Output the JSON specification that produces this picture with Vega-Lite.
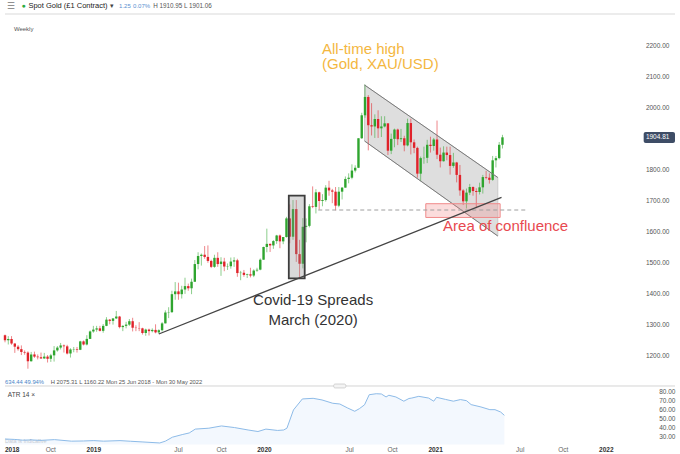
{
"$schema": "https://vega.github.io/schema/vega-lite/v6.json",
"width": 680, "height": 454,
"autosize": {"type": "fit", "contains": "padding"},
"padding": 0,
"background": "#ffffff",
"config": {"view": {"stroke": null}, "font": "Liberation Sans"},
"datasets": {
"candles": [
{"d":"2018-06-25","o":1268,"h":1270,"l":1245,"c":1252},
{"d":"2018-07-02","o":1252,"h":1265,"l":1238,"c":1256},
{"d":"2018-07-09","o":1256,"h":1265,"l":1237,"c":1241},
{"d":"2018-07-16","o":1241,"h":1243,"l":1211,"c":1231},
{"d":"2018-07-23","o":1231,"h":1236,"l":1218,"c":1223},
{"d":"2018-07-30","o":1223,"h":1235,"l":1204,"c":1214},
{"d":"2018-08-06","o":1214,"h":1219,"l":1205,"c":1212},
{"d":"2018-08-13","o":1212,"h":1216,"l":1160,"c":1184},
{"d":"2018-08-20","o":1184,"h":1214,"l":1183,"c":1206},
{"d":"2018-08-27","o":1206,"h":1215,"l":1195,"c":1199},
{"d":"2018-09-03","o":1199,"h":1206,"l":1190,"c":1197},
{"d":"2018-09-10","o":1197,"h":1212,"l":1192,"c":1193},
{"d":"2018-09-17","o":1193,"h":1211,"l":1192,"c":1199},
{"d":"2018-09-24","o":1199,"h":1204,"l":1180,"c":1192},
{"d":"2018-10-01","o":1192,"h":1208,"l":1182,"c":1203},
{"d":"2018-10-08","o":1203,"h":1233,"l":1183,"c":1219},
{"d":"2018-10-15","o":1219,"h":1233,"l":1215,"c":1228},
{"d":"2018-10-22","o":1228,"h":1243,"l":1222,"c":1235},
{"d":"2018-10-29","o":1235,"h":1238,"l":1212,"c":1232},
{"d":"2018-11-05","o":1232,"h":1237,"l":1206,"c":1209},
{"d":"2018-11-12","o":1209,"h":1226,"l":1196,"c":1222},
{"d":"2018-11-19","o":1222,"h":1230,"l":1213,"c":1223},
{"d":"2018-11-26","o":1223,"h":1230,"l":1212,"c":1221},
{"d":"2018-12-03","o":1221,"h":1250,"l":1220,"c":1248},
{"d":"2018-12-10","o":1248,"h":1251,"l":1235,"c":1238},
{"d":"2018-12-17","o":1238,"h":1268,"l":1235,"c":1256},
{"d":"2018-12-24","o":1256,"h":1283,"l":1256,"c":1280},
{"d":"2018-12-31","o":1280,"h":1298,"l":1276,"c":1286},
{"d":"2019-01-07","o":1286,"h":1298,"l":1279,"c":1290},
{"d":"2019-01-14","o":1290,"h":1298,"l":1280,"c":1282},
{"d":"2019-01-21","o":1282,"h":1304,"l":1276,"c":1298},
{"d":"2019-01-28","o":1298,"h":1326,"l":1297,"c":1318},
{"d":"2019-02-04","o":1318,"h":1320,"l":1303,"c":1314},
{"d":"2019-02-11","o":1314,"h":1322,"l":1302,"c":1322},
{"d":"2019-02-18","o":1322,"h":1346,"l":1320,"c":1328},
{"d":"2019-02-25","o":1328,"h":1330,"l":1290,"c":1294},
{"d":"2019-03-04","o":1294,"h":1300,"l":1281,"c":1298},
{"d":"2019-03-11","o":1298,"h":1311,"l":1290,"c":1302},
{"d":"2019-03-18","o":1302,"h":1320,"l":1298,"c":1313},
{"d":"2019-03-25","o":1313,"h":1324,"l":1280,"c":1292},
{"d":"2019-04-01","o":1292,"h":1300,"l":1281,"c":1291},
{"d":"2019-04-08","o":1291,"h":1310,"l":1281,"c":1290},
{"d":"2019-04-15","o":1290,"h":1292,"l":1270,"c":1275},
{"d":"2019-04-22","o":1275,"h":1289,"l":1266,"c":1286},
{"d":"2019-04-29","o":1286,"h":1289,"l":1267,"c":1281},
{"d":"2019-05-06","o":1281,"h":1290,"l":1277,"c":1285},
{"d":"2019-05-13","o":1285,"h":1303,"l":1274,"c":1277},
{"d":"2019-05-20","o":1277,"h":1287,"l":1273,"c":1284},
{"d":"2019-05-27","o":1284,"h":1310,"l":1280,"c":1306},
{"d":"2019-06-03","o":1306,"h":1348,"l":1306,"c":1341},
{"d":"2019-06-10","o":1341,"h":1358,"l":1323,"c":1342},
{"d":"2019-06-17","o":1342,"h":1411,"l":1340,"c":1400},
{"d":"2019-06-24","o":1400,"h":1439,"l":1382,"c":1409},
{"d":"2019-07-01","o":1409,"h":1437,"l":1382,"c":1400},
{"d":"2019-07-08","o":1400,"h":1427,"l":1386,"c":1415},
{"d":"2019-07-15","o":1415,"h":1453,"l":1401,"c":1426},
{"d":"2019-07-22","o":1426,"h":1434,"l":1411,"c":1419},
{"d":"2019-07-29","o":1419,"h":1450,"l":1400,"c":1440},
{"d":"2019-08-05","o":1440,"h":1510,"l":1440,"c":1497},
{"d":"2019-08-12","o":1497,"h":1535,"l":1480,"c":1523},
{"d":"2019-08-19","o":1523,"h":1531,"l":1492,"c":1527},
{"d":"2019-08-26","o":1527,"h":1555,"l":1514,"c":1520},
{"d":"2019-09-02","o":1520,"h":1557,"l":1501,"c":1507},
{"d":"2019-09-09","o":1507,"h":1511,"l":1484,"c":1488},
{"d":"2019-09-16","o":1488,"h":1527,"l":1485,"c":1517},
{"d":"2019-09-23","o":1517,"h":1535,"l":1488,"c":1497},
{"d":"2019-09-30","o":1497,"h":1519,"l":1459,"c":1505},
{"d":"2019-10-07","o":1505,"h":1517,"l":1474,"c":1489},
{"d":"2019-10-14","o":1489,"h":1499,"l":1478,"c":1490},
{"d":"2019-10-21","o":1490,"h":1518,"l":1482,"c":1505},
{"d":"2019-10-28","o":1505,"h":1519,"l":1488,"c":1509},
{"d":"2019-11-04","o":1509,"h":1514,"l":1456,"c":1468},
{"d":"2019-11-11","o":1468,"h":1475,"l":1445,"c":1469},
{"d":"2019-11-18","o":1469,"h":1478,"l":1456,"c":1462},
{"d":"2019-11-25","o":1462,"h":1466,"l":1452,"c":1464},
{"d":"2019-12-02","o":1464,"h":1485,"l":1454,"c":1460},
{"d":"2019-12-09","o":1460,"h":1480,"l":1455,"c":1476},
{"d":"2019-12-16","o":1476,"h":1485,"l":1472,"c":1479},
{"d":"2019-12-23","o":1479,"h":1515,"l":1477,"c":1511},
{"d":"2019-12-30","o":1511,"h":1553,"l":1511,"c":1552},
{"d":"2020-01-06","o":1552,"h":1611,"l":1535,"c":1562},
{"d":"2020-01-13","o":1562,"h":1563,"l":1536,"c":1557},
{"d":"2020-01-20","o":1557,"h":1574,"l":1546,"c":1571},
{"d":"2020-01-27","o":1571,"h":1591,"l":1562,"c":1589},
{"d":"2020-02-03","o":1589,"h":1592,"l":1548,"c":1570},
{"d":"2020-02-10","o":1570,"h":1584,"l":1561,"c":1584},
{"d":"2020-02-17","o":1584,"h":1649,"l":1582,"c":1644},
{"d":"2020-02-24","o":1644,"h":1689,"l":1564,"c":1585},
{"d":"2020-03-02","o":1585,"h":1703,"l":1575,"c":1674},
{"d":"2020-03-09","o":1674,"h":1703,"l":1504,"c":1529},
{"d":"2020-03-16","o":1529,"h":1575,"l":1451,"c":1498},
{"d":"2020-03-23","o":1498,"h":1645,"l":1483,"c":1617},
{"d":"2020-03-30","o":1617,"h":1644,"l":1567,"c":1620},
{"d":"2020-04-06","o":1620,"h":1690,"l":1615,"c":1683},
{"d":"2020-04-13","o":1683,"h":1747,"l":1677,"c":1681},
{"d":"2020-04-20","o":1681,"h":1738,"l":1660,"c":1728},
{"d":"2020-04-27","o":1728,"h":1730,"l":1672,"c":1700},
{"d":"2020-05-04","o":1700,"h":1722,"l":1683,"c":1703},
{"d":"2020-05-11","o":1703,"h":1751,"l":1698,"c":1743},
{"d":"2020-05-18","o":1743,"h":1765,"l":1717,"c":1734},
{"d":"2020-05-25","o":1734,"h":1739,"l":1693,"c":1730},
{"d":"2020-06-01","o":1730,"h":1745,"l":1670,"c":1685},
{"d":"2020-06-08","o":1685,"h":1745,"l":1680,"c":1730},
{"d":"2020-06-15","o":1730,"h":1745,"l":1705,"c":1743},
{"d":"2020-06-22","o":1743,"h":1779,"l":1743,"c":1771},
{"d":"2020-06-29","o":1771,"h":1789,"l":1757,"c":1775},
{"d":"2020-07-06","o":1775,"h":1818,"l":1770,"c":1798},
{"d":"2020-07-13","o":1798,"h":1815,"l":1792,"c":1807},
{"d":"2020-07-20","o":1807,"h":1902,"l":1806,"c":1902},
{"d":"2020-07-27","o":1902,"h":1984,"l":1900,"c":1976},
{"d":"2020-08-03","o":1976,"h":2075,"l":1968,"c":2035},
{"d":"2020-08-10","o":2035,"h":2041,"l":1863,"c":1944},
{"d":"2020-08-17","o":1944,"h":2015,"l":1911,"c":1940},
{"d":"2020-08-24","o":1940,"h":1979,"l":1903,"c":1964},
{"d":"2020-08-31","o":1964,"h":1992,"l":1903,"c":1934},
{"d":"2020-09-07","o":1934,"h":1973,"l":1906,"c":1940},
{"d":"2020-09-14","o":1940,"h":1973,"l":1937,"c":1950},
{"d":"2020-09-21","o":1950,"h":1950,"l":1848,"c":1862},
{"d":"2020-09-28","o":1862,"h":1917,"l":1851,"c":1900},
{"d":"2020-10-05","o":1900,"h":1933,"l":1873,"c":1930},
{"d":"2020-10-12","o":1930,"h":1933,"l":1880,"c":1899},
{"d":"2020-10-19","o":1899,"h":1932,"l":1890,"c":1902},
{"d":"2020-10-26","o":1902,"h":1910,"l":1860,"c":1879},
{"d":"2020-11-02","o":1879,"h":1965,"l":1876,"c":1951},
{"d":"2020-11-09","o":1951,"h":1965,"l":1850,"c":1889},
{"d":"2020-11-16","o":1889,"h":1898,"l":1854,"c":1871},
{"d":"2020-11-23","o":1871,"h":1875,"l":1775,"c":1788},
{"d":"2020-11-30","o":1788,"h":1843,"l":1764,"c":1838},
{"d":"2020-12-07","o":1838,"h":1875,"l":1820,"c":1839},
{"d":"2020-12-14","o":1839,"h":1897,"l":1822,"c":1881},
{"d":"2020-12-21","o":1881,"h":1907,"l":1856,"c":1877},
{"d":"2020-12-28","o":1877,"h":1903,"l":1862,"c":1898},
{"d":"2021-01-04","o":1898,"h":1959,"l":1835,"c":1849},
{"d":"2021-01-11","o":1849,"h":1872,"l":1808,"c":1828},
{"d":"2021-01-18","o":1828,"h":1876,"l":1827,"c":1856},
{"d":"2021-01-25","o":1856,"h":1875,"l":1831,"c":1848},
{"d":"2021-02-01","o":1848,"h":1875,"l":1785,"c":1813},
{"d":"2021-02-08","o":1813,"h":1855,"l":1807,"c":1824},
{"d":"2021-02-15","o":1824,"h":1826,"l":1760,"c":1784},
{"d":"2021-02-22","o":1784,"h":1816,"l":1717,"c":1734},
{"d":"2021-03-01","o":1734,"h":1738,"l":1687,"c":1699},
{"d":"2021-03-08","o":1699,"h":1740,"l":1676,"c":1727},
{"d":"2021-03-15","o":1727,"h":1755,"l":1719,"c":1745},
{"d":"2021-03-22","o":1745,"h":1747,"l":1717,"c":1732},
{"d":"2021-03-29","o":1732,"h":1741,"l":1677,"c":1729},
{"d":"2021-04-05","o":1729,"h":1759,"l":1721,"c":1744},
{"d":"2021-04-12","o":1744,"h":1784,"l":1724,"c":1777},
{"d":"2021-04-19","o":1777,"h":1797,"l":1770,"c":1775},
{"d":"2021-04-26","o":1775,"h":1789,"l":1756,"c":1768},
{"d":"2021-05-03","o":1768,"h":1845,"l":1765,"c":1831},
{"d":"2021-05-10","o":1831,"h":1845,"l":1808,"c":1838},
{"d":"2021-05-17","o":1838,"h":1890,"l":1834,"c":1881},
{"d":"2021-05-24","o":1881,"h":1913,"l":1869,"c":1905}
],
"atr": [
{"d":"2018-06-25","v":27},{"d":"2018-07-16","v":26.5},{"d":"2018-08-02","v":25.7},{"d":"2018-08-20","v":26},
{"d":"2018-09-10","v":25.5},{"d":"2018-10-09","v":26.3},{"d":"2018-11-14","v":24.6},{"d":"2018-12-10","v":24.8},
{"d":"2019-01-01","v":25.2},{"d":"2019-01-22","v":24.6},{"d":"2019-02-26","v":25.2},{"d":"2019-03-20","v":24.5},
{"d":"2019-04-16","v":23.7},{"d":"2019-05-22","v":22.6},{"d":"2019-06-03","v":24.6},{"d":"2019-06-18","v":29},
{"d":"2019-07-09","v":31.9},{"d":"2019-07-24","v":33.7},{"d":"2019-08-06","v":38},{"d":"2019-09-04","v":39},
{"d":"2019-10-01","v":41.5},{"d":"2019-10-29","v":39.7},{"d":"2019-11-27","v":37},{"d":"2019-12-18","v":35.3},
{"d":"2020-01-04","v":38},{"d":"2020-01-29","v":36.5},{"d":"2020-02-11","v":37},{"d":"2020-02-18","v":39},
{"d":"2020-03-03","v":59.3},{"d":"2020-03-22","v":71.5},{"d":"2020-04-14","v":72.2},{"d":"2020-05-03","v":70.4},
{"d":"2020-05-26","v":66.7},{"d":"2020-06-10","v":65.9},{"d":"2020-06-27","v":61.4},{"d":"2020-07-12","v":57.8},
{"d":"2020-07-22","v":60.7},{"d":"2020-08-02","v":65},{"d":"2020-08-12","v":76.2},{"d":"2020-08-27","v":77.3},
{"d":"2020-09-07","v":77},{"d":"2020-09-17","v":73.7},{"d":"2020-09-23","v":75.6},{"d":"2020-10-08","v":73.7},
{"d":"2020-10-25","v":69},{"d":"2020-11-05","v":72},{"d":"2020-11-11","v":72.5},{"d":"2020-11-26","v":74.4},
{"d":"2020-12-17","v":72.5},{"d":"2020-12-28","v":69},{"d":"2021-01-03","v":73.3},{"d":"2021-01-22","v":71},
{"d":"2021-02-08","v":69},{"d":"2021-02-23","v":70.8},{"d":"2021-03-08","v":69.6},{"d":"2021-03-18","v":65.2},
{"d":"2021-04-08","v":62.6},{"d":"2021-04-27","v":59.6},{"d":"2021-05-08","v":59.6},{"d":"2021-05-20","v":57},
{"d":"2021-05-28","v":53.3}
],
"priceTicks": [{"p":1200},{"p":1300},{"p":1400},{"p":1500},{"p":1600},{"p":1700},{"p":1800},{"p":2000},{"p":2100},{"p":2200}],
"yearTicks": [{"d":"2019-01-01","t":"2019"},{"d":"2020-01-01","t":"2020"},{"d":"2021-01-01","t":"2021"},{"d":"2022-01-01","t":"2022"}],
"monthTicks": [{"d":"2018-10-01","t":"Oct"},{"d":"2019-07-01","t":"Jul"},{"d":"2019-10-01","t":"Oct"},{"d":"2020-07-01","t":"Jul"},{"d":"2020-10-01","t":"Oct"},{"d":"2021-07-01","t":"Jul"},{"d":"2021-10-01","t":"Oct"}]
},
"layer": [
{"layer": [
 {"data": {"values": [{}]},
  "mark": {"type":"rule","color":"#e6e6e6","strokeWidth":1.5},
  "encoding": {
   "x": {"datum":{"year":2018,"month":6,"date":25},"type":"temporal","axis":null,"scale":{"domain":[{"year":2018,"month":6,"date":25},{"year":2022,"month":5,"date":28}],"nice":false}},
   "x2": {"datum":{"year":2022,"month":5,"date":28}},
   "y": {"datum":2302.2,"type":"quantitative","axis":null,"scale":{"domain":[885.45,2347.14],"nice":false,"zero":false}}}},
 {"data": {"values": [{"d":"2020-08-02","top":2073.5,"bot":1893.2},{"d":"2021-05-14","top":1775.7,"bot":1587.3}]},
  "mark": {"type":"area","color":"#dedede","stroke":"#c2c2c2","strokeWidth":0.8},
  "encoding": {
   "x": {"field":"d","type":"temporal","axis":null},
   "y": {"field":"top","type":"quantitative","axis":null},
   "y2": {"field":"bot"}}},
 {"data": {"name":"candles"},
  "mark": {"type":"rule","strokeWidth":1,"opacity":0.55},
  "encoding": {
   "x": {"field":"d","type":"temporal","axis":null},
   "y": {"field":"l","type":"quantitative","axis":null},
   "y2": {"field":"h"},
   "color": {"condition":{"test":"datum.c >= datum.o","value":"#2fa52f"},"value":"#e0222a"}}},
 {"data": {"name":"candles"},
  "mark": {"type":"bar","size":2.4},
  "encoding": {
   "x": {"field":"d","type":"temporal","axis":null},
   "y": {"field":"o","type":"quantitative","axis":null},
   "y2": {"field":"c"},
   "color": {"condition":{"test":"datum.c >= datum.o","value":"#2fa52f"},"value":"#e0222a"}}},
 {"data": {"values": [{"d1":"2020-08-02","p1":2073.5,"d2":"2021-05-14","p2":1775.7},{"d1":"2020-08-02","p1":1893.2,"d2":"2021-05-14","p2":1587.3}]},
  "mark": {"type":"rule","color":"#7a7a7a","strokeWidth":1},
  "encoding": {"x":{"field":"d1","type":"temporal","axis":null},"x2":{"field":"d2"},"y":{"field":"p1","type":"quantitative","axis":null},"y2":{"field":"p2"}}},
 {"data": {"values": [{}]},
  "mark": {"type":"rect","fill":"#8c8c8c","fillOpacity":0.33,"stroke":"#3d3d3d","strokeWidth":1.8},
  "encoding": {"x":{"datum":{"year":2020,"month":2,"date":22},"type":"temporal","axis":null},"x2":{"datum":{"year":2020,"month":3,"date":27}},"y":{"datum":1717,"type":"quantitative","axis":null},"y2":{"datum":1451}}},
 {"data": {"values": [{}]},
  "mark": {"type":"rect","fill":"#f28b8b","fillOpacity":0.3,"stroke":"#f08a8a","strokeWidth":1},
  "encoding": {"x":{"datum":{"year":2020,"month":12,"date":11},"type":"temporal","axis":null},"x2":{"datum":{"year":2021,"month":5,"date":19}},"y":{"datum":1691.3,"type":"quantitative","axis":null},"y2":{"datum":1647}}},
 {"data": {"values": [{}]},
  "mark": {"type":"rule","color":"#9e9e9e","strokeWidth":1,"strokeDash":[4,3]},
  "encoding": {"x":{"datum":{"year":2020,"month":4,"date":25},"type":"temporal","axis":null},"x2":{"datum":{"year":2021,"month":7,"date":16}},"y":{"datum":1671,"type":"quantitative","axis":null}}},
 {"data": {"values": [{}]},
  "mark": {"type":"rule","color":"#444444","strokeWidth":1.3},
  "encoding": {"x":{"datum":{"year":2019,"month":5,"date":20},"type":"temporal","axis":null},"x2":{"datum":{"year":2021,"month":5,"date":22}},"y":{"datum":1271.8,"type":"quantitative","axis":null},"y2":{"datum":1711.9}}},
 {"data": {"name":"priceTicks"},
  "mark": {"type":"text","align":"right","baseline":"middle","fontSize":6.5,"color":"#555555"},
  "encoding": {"x":{"datum":{"year":2022,"month":5,"date":16},"type":"temporal","axis":null},"y":{"field":"p","type":"quantitative","axis":null},"text":{"field":"p","type":"quantitative","format":".2f"}}},
 {"data": {"values": [{}]},
  "mark": {"type":"rect","fill":"#3e4d66","cornerRadius":2},
  "encoding": {"x":{"datum":{"year":2022,"month":3,"date":22},"type":"temporal","axis":null},"x2":{"datum":{"year":2022,"month":5,"date":28}},"y":{"datum":1887.1,"type":"quantitative","axis":null},"y2":{"datum":1922.5}}},
 {"data": {"values": [{}]},
  "mark": {"type":"text","align":"right","baseline":"middle","fontSize":6.5,"color":"#ffffff"},
  "encoding": {"x":{"datum":{"year":2022,"month":5,"date":16},"type":"temporal","axis":null},"y":{"datum":1904.81,"type":"quantitative","axis":null},"text":{"value":"1904.81"}}},
 {"data": {"name":"yearTicks"},
  "mark": {"type":"text","align":"center","baseline":"middle","fontSize":6.5,"fontWeight":"bold","color":"#333333"},
  "encoding": {"x":{"field":"d","type":"temporal","axis":null},"y":{"datum":898.3,"type":"quantitative","axis":null},"text":{"field":"t"}}},
 {"data": {"values": [{}]},
  "mark": {"type":"text","align":"left","baseline":"middle","fontSize":6.5,"fontWeight":"bold","color":"#333333"},
  "encoding": {"x":{"datum":{"year":2018,"month":6,"date":25},"type":"temporal","axis":null},"y":{"datum":898.3,"type":"quantitative","axis":null},"text":{"value":"2018"}}},
 {"data": {"name":"monthTicks"},
  "mark": {"type":"text","align":"center","baseline":"middle","fontSize":6.5,"color":"#666666"},
  "encoding": {"x":{"field":"d","type":"temporal","axis":null},"y":{"datum":898.3,"type":"quantitative","axis":null},"text":{"field":"t"}}},
 {"data": {"values": [{}]},
  "mark": {"type":"rule","color":"#d4d4d4","strokeWidth":1},
  "encoding": {"x":{"datum":{"year":2018,"month":6,"date":25},"type":"temporal","axis":null},"x2":{"datum":{"year":2022,"month":5,"date":28}},"y":{"datum":1104.4,"type":"quantitative","axis":null}}},
 {"data": {"values": [{}]},
  "mark": {"type":"rect","fill":"#f4f4f4","stroke":"#bbbbbb","strokeWidth":0.6,"cornerRadius":1.5},
  "encoding": {"x":{"datum":{"year":2020,"month":5,"date":28},"type":"temporal","axis":null},"x2":{"datum":{"year":2020,"month":6,"date":23}},"y":{"datum":1098,"type":"quantitative","axis":null},"y2":{"datum":1110.8}}},
 {"data": {"values": [{}]},
  "mark": {"type":"text","align":"left","baseline":"middle","fontSize":15,"color":"#f4b73f"},
  "encoding": {"x":{"datum":{"year":2020,"month":5,"date":3},"type":"temporal","axis":null},"y":{"datum":2190.5,"type":"quantitative","axis":null},"text":{"value":"All-time high"}}},
 {"data": {"values": [{}]},
  "mark": {"type":"text","align":"left","baseline":"middle","fontSize":15,"color":"#f4b73f"},
  "encoding": {"x":{"datum":{"year":2020,"month":5,"date":3},"type":"temporal","axis":null},"y":{"datum":2140,"type":"quantitative","axis":null},"text":{"value":"(Gold, XAU/USD)"}}},
 {"data": {"values": [{}]},
  "mark": {"type":"text","align":"center","baseline":"middle","fontSize":15,"color":"#333333"},
  "encoding": {"x":{"datum":{"year":2020,"month":4,"date":14},"type":"temporal","axis":null},"y":{"datum":1380,"type":"quantitative","axis":null},"text":{"value":"Covid-19 Spreads"}}},
 {"data": {"values": [{}]},
  "mark": {"type":"text","align":"center","baseline":"middle","fontSize":15,"color":"#333333"},
  "encoding": {"x":{"datum":{"year":2020,"month":4,"date":14},"type":"temporal","axis":null},"y":{"datum":1318,"type":"quantitative","axis":null},"text":{"value":"March (2020)"}}},
 {"data": {"values": [{}]},
  "mark": {"type":"text","align":"left","baseline":"middle","fontSize":15,"color":"#e8494f"},
  "encoding": {"x":{"datum":{"year":2021,"month":1,"date":17},"type":"temporal","axis":null},"y":{"datum":1619.5,"type":"quantitative","axis":null},"text":{"value":"Area of confluence"}}},
 {"data": {"values": [{}]},
  "mark": {"type":"text","align":"left","baseline":"middle","fontSize":9,"color":"#777777"},
  "encoding": {"x":{"datum":{"year":2018,"month":6,"date":30},"type":"temporal","axis":null},"y":{"datum":2327.8,"type":"quantitative","axis":null},"text":{"value":"☰"}}},
 {"data": {"values": [{}]},
  "mark": {"type":"text","align":"center","baseline":"middle","fontSize":7,"color":"#2eaa3e"},
  "encoding": {"x":{"datum":{"year":2018,"month":8,"date":4},"type":"temporal","axis":null},"y":{"datum":2327.8,"type":"quantitative","axis":null},"text":{"value":"●"}}},
 {"data": {"values": [{}]},
  "mark": {"type":"text","align":"left","baseline":"middle","fontSize":7.5,"color":"#222222"},
  "encoding": {"x":{"datum":{"year":2018,"month":8,"date":14},"type":"temporal","axis":null},"y":{"datum":2327.8,"type":"quantitative","axis":null},"text":{"value":"Spot Gold (£1 Contract)"}}},
 {"data": {"values": [{}]},
  "mark": {"type":"text","align":"center","baseline":"middle","fontSize":7,"color":"#444444"},
  "encoding": {"x":{"datum":{"year":2019,"month":2,"date":9},"type":"temporal","axis":null},"y":{"datum":2327.8,"type":"quantitative","axis":null},"text":{"value":"▾"}}},
 {"data": {"values": [{}]},
  "mark": {"type":"text","align":"left","baseline":"middle","fontSize":6,"color":"#5a8fd0"},
  "encoding": {"x":{"datum":{"year":2019,"month":2,"date":24},"type":"temporal","axis":null},"y":{"datum":2327.8,"type":"quantitative","axis":null},"text":{"value":"1.25"}}},
 {"data": {"values": [{}]},
  "mark": {"type":"text","align":"left","baseline":"middle","fontSize":6,"color":"#5a8fd0"},
  "encoding": {"x":{"datum":{"year":2019,"month":3,"date":26},"type":"temporal","axis":null},"y":{"datum":2327.8,"type":"quantitative","axis":null},"text":{"value":"0.07%"}}},
 {"data": {"values": [{}]},
  "mark": {"type":"text","align":"left","baseline":"middle","fontSize":6.3,"color":"#555555"},
  "encoding": {"x":{"datum":{"year":2019,"month":5,"date":8},"type":"temporal","axis":null},"y":{"datum":2327.8,"type":"quantitative","axis":null},"text":{"value":"H 1910.95  L 1901.06"}}},
 {"data": {"values": [{}]},
  "mark": {"type":"text","align":"left","baseline":"middle","fontSize":6,"color":"#555555"},
  "encoding": {"x":{"datum":{"year":2018,"month":7,"date":14},"type":"temporal","axis":null},"y":{"datum":2253.8,"type":"quantitative","axis":null},"text":{"value":"Weekly"}}},
 {"data": {"values": [{}]},
  "mark": {"type":"text","align":"left","baseline":"middle","fontSize":5.8,"color":"#4a86c8"},
  "encoding": {"x":{"datum":{"year":2018,"month":6,"date":25},"type":"temporal","axis":null},"y":{"datum":1117.3,"type":"quantitative","axis":null},"text":{"value":"634.44   49.94%"}}},
 {"data": {"values": [{}]},
  "mark": {"type":"text","align":"left","baseline":"middle","fontSize":5.8,"color":"#555555"},
  "encoding": {"x":{"datum":{"year":2018,"month":10,"date":1},"type":"temporal","axis":null},"y":{"datum":1117.3,"type":"quantitative","axis":null},"text":{"value":"H 2075.31   L 1160.22   Mon 25 Jun 2018 - Mon 30 May 2022"}}},
 {"data": {"values": [{}]},
  "mark": {"type":"text","align":"left","baseline":"middle","fontSize":6.5,"color":"#444444"},
  "encoding": {"x":{"datum":{"year":2018,"month":7,"date":1},"type":"temporal","axis":null},"y":{"datum":1076.4,"type":"quantitative","axis":null},"text":{"value":"ATR  14  ×"}}},
 {"data": {"values": [{}]},
  "mark": {"type":"text","align":"left","baseline":"middle","fontSize":5.5,"color":"#666666"},
  "encoding": {"x":{"datum":{"year":2018,"month":6,"date":25},"type":"temporal","axis":null},"y":{"datum":928.3,"type":"quantitative","axis":null},"text":{"value":"Data is indicative"}}}
]},
{"layer": [
 {"data": {"name":"atr"},
  "mark": {"type":"area","color":"#eef5fd","line":{"color":"#8dbbe8","strokeWidth":1}},
  "encoding": {
   "x": {"field":"d","type":"temporal","axis":null},
   "y": {"field":"v","type":"quantitative","scale":{"domain":[10.33,514.78],"nice":false,"zero":false},"axis":{"orient":"right","values":[30,40,50,60,70,80],"format":".2f","title":null,"domain":false,"ticks":false,"tickSize":0,"grid":false,"labelAlign":"right","labelBaseline":"middle","labelPadding":-5,"labelFontSize":6.5,"labelColor":"#555555","labelOverlap":false,"minExtent":0,"maxExtent":0}},
   "y2": {"datum": 20.9}}}
]}
],
"resolve": {"scale": {"y": "independent"}, "axis": {"y": "independent"}}
}
